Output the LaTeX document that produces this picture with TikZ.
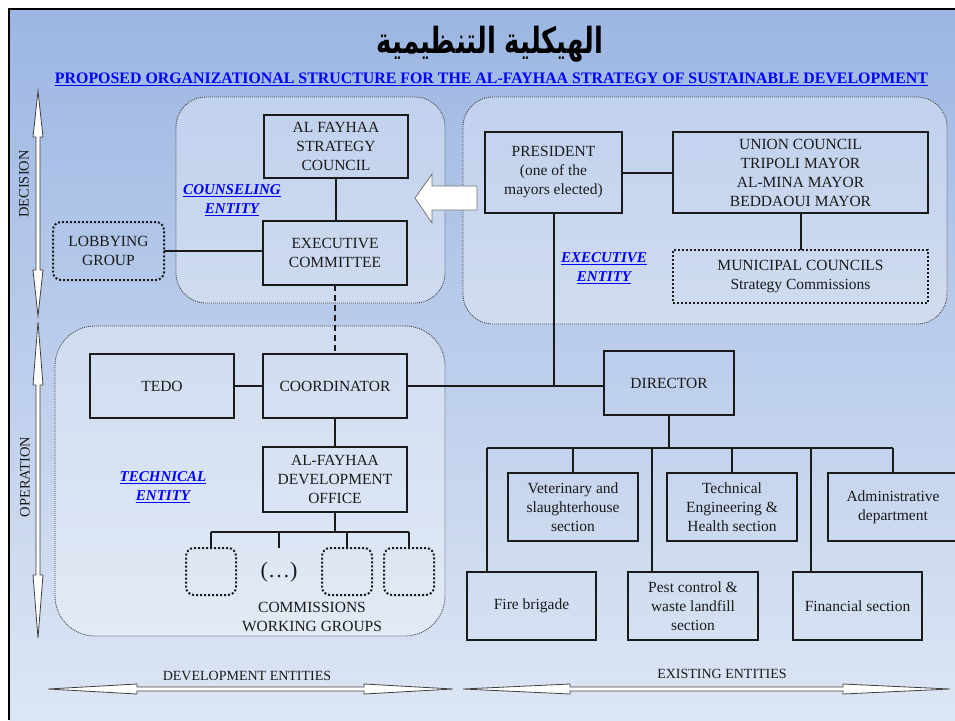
\documentclass[tikz,border=0pt]{standalone}
\usepackage{graphicx}
\usepackage{fontspec}
\setmainfont{Liberation Serif}
\newfontfamily\arabicfont[Script=Arabic]{DejaVu Sans}
\TeXXeTstate=1
\usetikzlibrary{calc}
\definecolor{bgtop}{HTML}{9CB6E3}
\definecolor{bgbot}{HTML}{DDE6F4}
\definecolor{linkblue}{HTML}{0000FF}
\definecolor{ink}{HTML}{1A1A1A}
\tikzset{
  box/.style={draw=ink, line width=2pt, align=center, text=ink, inner sep=0pt, outer sep=0pt,
    font=\fontsize{15.5}{19}\selectfont},
  dotbox/.style={box, dotted, line width=2pt},
  roundbox/.style={dotbox, rounded corners=8pt},
  entity/.style={draw=black!70, dash pattern=on 1pt off 1pt, line width=0.9pt, fill=white,
    fill opacity=0.33, text opacity=1, inner sep=0pt, outer sep=0pt},
  link/.style={draw=ink, line width=2pt},
  elabel/.style={text=linkblue, align=center, font=\fontsize{15}{19}\selectfont\bfseries\itshape},
  plain/.style={text=ink, align=center, font=\fontsize{15.5}{19}\selectfont},
  blockarrow/.style={fill=white, draw=black!75, line width=0.8pt, line join=miter},
}
\newcommand\vdarrow[4]{% x, ytop, ybottom, head length
  \path[blockarrow] (#1,#2) -- ({#1+5},{#2+#4}) -- ({#1+2},{#2+#4}) -- ({#1+2},{#3-#4})
    -- ({#1+5},{#3-#4}) -- (#1,#3) -- ({#1-5},{#3-#4}) -- ({#1-2},{#3-#4})
    -- ({#1-2},{#2+#4}) -- ({#1-5},{#2+#4}) -- cycle;}
\newcommand\hdarrow[4]{% y, xleft, xright, head length
  \path[blockarrow] (#2,#1) -- ({#2+#4},{#1-5}) -- ({#2+#4},{#1-2}) -- ({#3-#4},{#1-2})
    -- ({#3-#4},{#1-5}) -- (#3,#1) -- ({#3-#4},{#1+5}) -- ({#3-#4},{#1+2})
    -- ({#2+#4},{#1+2}) -- ({#2+#4},{#1+5}) -- cycle;}
\begin{document}
\begin{tikzpicture}[x=1pt, y=-1pt]
\useasboundingbox (0,0) rectangle (955,720);
% background
\fill[white] (0,0) rectangle (955,720);
\shade[top color=bgtop, bottom color=bgbot] (9,9) rectangle (955,720);
\draw[line width=2.5pt, black] (9,720) -- (9,9) -- (955,9);

% titles
\node[text=black, inner sep=0pt] (title) at (490,44) {\scalebox{0.72}[1]{\fontsize{36}{36}\selectfont\arabicfont\bfseries\beginR الهيكلية التنظيمية\endR}};
\node[text=linkblue, inner sep=0pt] (subtitle) at (491.5,79)
  {\resizebox{873pt}{\height}{\fontsize{16}{16}\selectfont\bfseries\underline{PROPOSED ORGANIZATIONAL STRUCTURE FOR THE AL-FAYHAA STRATEGY OF SUSTAINABLE DEVELOPMENT}}};

% entity containers
\node[entity, rounded corners=30pt, minimum width=269pt, minimum height=206pt] (counseling) at (310.5,200) {};
\node[entity, rounded corners=30pt, minimum width=484pt, minimum height=227pt] (executive) at (705,210.5) {};
\node[entity, rounded corners=40pt, minimum width=390pt, minimum height=310pt] (technical) at (250,481) {};

% side arrows and labels
\vdarrow{38}{91}{316}{46}
\vdarrow{38}{322}{638}{63}
\node[plain, rotate=90, font=\fontsize{14.5}{17}\selectfont] (decision) at (24,184) {DECISION};
\node[plain, rotate=90, font=\fontsize{14.5}{17}\selectfont] (operation) at (25,477) {OPERATION};
\hdarrow{689}{48}{453}{89}
\hdarrow{689}{463}{950}{107}
\node[plain, font=\fontsize{14}{17}\selectfont] (devent) at (247,676) {DEVELOPMENT ENTITIES};
\node[plain, font=\fontsize{14}{17}\selectfont] (exient) at (722,674) {EXISTING ENTITIES};

% big left arrow
\path[blockarrow, draw=black!55] (415,198) -- (432,174) -- (432,186) -- (477,186) -- (477,210) -- (432,210) -- (432,223) -- cycle;

% counseling entity
\node[box, minimum width=144pt, minimum height=63pt] (council) at (336,146.5) {AL FAYHAA\\STRATEGY\\COUNCIL};
\node[box, minimum width=144pt, minimum height=64pt] (committee) at (335,253) {EXECUTIVE\\COMMITTEE};
\node[roundbox, minimum width=111pt, minimum height=58pt] (lobby) at (108.5,251) {LOBBYING\\GROUP};
\node[elabel] (counlabel) at (232,200) {\underline{COUNSELING}\\\underline{ENTITY}};

% executive entity
\node[box, minimum width=137pt, minimum height=81pt] (president) at (553.5,172.5) {PRESIDENT\\(one of the\\mayors elected)};
\node[box, minimum width=255pt, minimum height=81pt] (union) at (800.5,172.5) {UNION COUNCIL\\TRIPOLI MAYOR\\AL-MINA MAYOR\\BEDDAOUI MAYOR};
\node[dotbox, minimum width=255pt, minimum height=53pt] (municipal) at (800.5,276.5) {MUNICIPAL COUNCILS\\Strategy Commissions};
\node[elabel] (exelabel) at (604,268) {\underline{EXECUTIVE}\\\underline{ENTITY}};

% technical entity
\node[box, minimum width=144pt, minimum height=64pt] (tedo) at (162,386) {TEDO};
\node[box, minimum width=144pt, minimum height=64pt] (coord) at (335,386) {COORDINATOR};
\node[box, minimum width=144pt, minimum height=65pt] (office) at (335,479.5) {AL-FAYHAA\\DEVELOPMENT\\OFFICE};
\node[roundbox, minimum width=50pt, minimum height=47pt] (c1) at (211,571.5) {};
\node[plain, font=\fontsize{22}{22}\selectfont] (dots) at (279,572) {(…)};
\node[roundbox, minimum width=50pt, minimum height=47pt] (c3) at (347,571.5) {};
\node[roundbox, minimum width=50pt, minimum height=47pt] (c4) at (409,571.5) {};
\node[plain] (commis) at (312,616.5) {COMMISSIONS\\WORKING GROUPS};
\node[elabel] (techlabel) at (163,487) {\underline{TECHNICAL}\\\underline{ENTITY}};

% existing entities
\node[box, minimum width=130pt, minimum height=64pt] (director) at (669,383) {DIRECTOR};
\node[box, minimum width=130pt, minimum height=68pt] (vet) at (573,507) {Veterinary and\\slaughterhouse\\section};
\node[box, minimum width=130pt, minimum height=68pt] (tech) at (732,507) {Technical\\Engineering \&\\Health section};
\node[box, minimum width=130pt, minimum height=68pt] (admin) at (893,507) {Administrative\\department};
\node[box, minimum width=129pt, minimum height=68pt] (fire) at (531.5,606) {Fire brigade};
\node[box, minimum width=130pt, minimum height=68pt] (pest) at (693,606) {Pest control \&\\waste landfill\\section};
\node[box, minimum width=129pt, minimum height=68pt] (fin) at (857.5,606) {Financial section};

% connectors: counseling
\draw[link] (council.south) -- (council.south |- committee.north);
\draw[link] (lobby.east) -- (lobby.east -| committee.west);
\draw[link, dashed, line width=1.5pt, dash pattern=on 6pt off 4pt] (committee.south) -- (committee.south |- coord.north);
% executive
\draw[link] (president.east) -- (president.east -| union.west);
\draw[link] (union.south) -- (municipal.north);
\coordinate (pj) at (coord.east -| president.south);
\draw[link] (president.south) -- (pj);
% technical
\draw[link] (tedo) -- (coord);
\draw[link] (coord.east) -- (coord.east -| director.west);
\draw[link] (coord) -- (office);
\coordinate (ob) at ($(office.south)+(0,20)$);
\draw[link] (office.south) -- (ob);
\draw[link] (ob -| c1.north) -- (ob -| c4.north);
\draw[link] (ob -| c1.north) -- (c1.north);
\draw[link] (ob -| dots) -- (dots |- c1.north);
\draw[link] (ob -| c3.north) -- (c3.north);
\draw[link] (ob -| c4.north) -- (c4.north);
% director tree
\coordinate (db) at ($(director.south)+(0,33)$);
\coordinate (fireDrop) at (487,448);
\coordinate (pestDrop) at (652,448);
\coordinate (finDrop) at (811,448);
\draw[link] (director.south) -- (db);
\draw[link] (fireDrop) -- (db -| admin.north);
\draw[link] (fireDrop) -- (fireDrop |- fire.north);
\draw[link] (pestDrop) -- (pestDrop |- pest.north);
\draw[link] (finDrop) -- (finDrop |- fin.north);
\draw[link] (db -| vet.north) -- (vet.north);
\draw[link] (db -| tech.north) -- (tech.north);
\draw[link] (db -| admin.north) -- (admin.north);
\end{tikzpicture}
\end{document}
